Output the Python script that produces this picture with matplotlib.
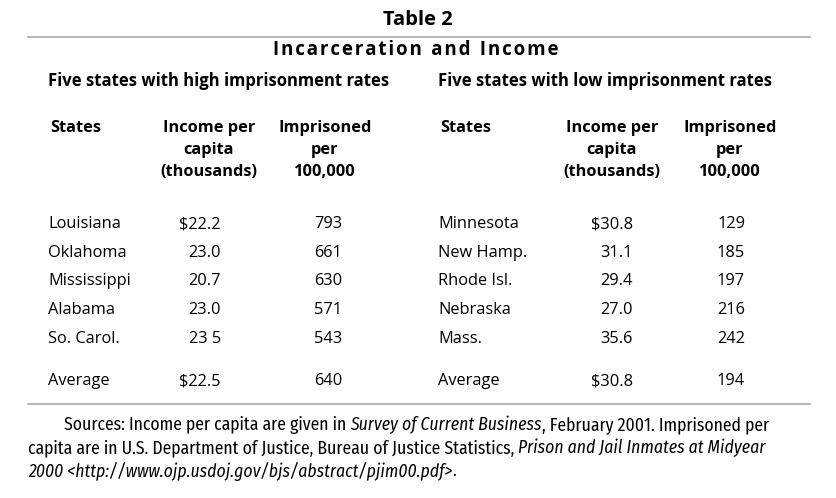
import matplotlib
matplotlib.use('Agg')
import matplotlib.pyplot as plt
from matplotlib import font_manager

FONT = 'Open Sans'
styles = {}
for f in font_manager.fontManager.ttflist:
    styles.setdefault(f.name, set()).add(f.style)
NOTE_FONT = 'Fira Sans Condensed' if 'italic' in styles.get('Fira Sans Condensed', set()) else FONT

# table data
high_states = ['Louisiana', 'Oklahoma', 'Mississippi', 'Alabama', 'So. Carol.']
high_income = ['$22.2', '23.0', '20.7', '23.0', '23 5']
high_prison = ['793', '661', '630', '571', '543']
high_avg = ['Average', '$22.5', '640']

low_states = ['Minnesota', 'New Hamp.', 'Rhode Isl.', 'Nebraska', 'Mass.']
low_income = ['$30.8', '31.1', '29.4', '27.0', '35.6']
low_prison = ['129', '185', '197', '216', '242']
low_avg = ['Average', '$30.8', '194']

headers = ['States', 'Income per\ncapita\n(thousands)', 'Imprisoned\nper\n100,000']

notes = [
    [('Sources: Income per capita are given in ', 'normal'), ('Survey of Current Business', 'italic'),
     (', February 2001. Imprisoned per', 'normal')],
    [('capita are in U.S. Department of Justice, Bureau of Justice Statistics, ', 'normal'),
     ('Prison and Jail Inmates at Midyear', 'italic')],
    [('2000 <http://www.ojp.usdoj.gov/bjs/abstract/pjim00.pdf>', 'italic'), ('.', 'normal')],
]

fig = plt.figure(figsize=(8.37, 4.98), dpi=100)
ax = fig.add_axes([0, 0, 1, 1])
ax.set_xlim(0, 837)
ax.set_ylim(498, 0)
ax.axis('off')

ax.text(418, 20, 'Table 2', ha='center', va='center', fontsize=14.5, fontweight='bold', family=FONT)
ax.plot([28, 810], [37, 37], color='#aaaaaa', lw=1.2)
# spaced-out title
ax.text(416, 50, '\u200a'.join('Incarceration and Income').replace('\u200a \u200a', '\u2002'),
        ha='center', va='center', fontsize=13.5, fontweight='bold', family=FONT)

blocks = [
    ('Five states with high imprisonment rates', 48, (48, 209, 325), (221, 342),
     high_states, high_income, high_prison, high_avg),
    ('Five states with low imprisonment rates', 438, (438, 612, 730), (633, 745),
     low_states, low_income, low_prison, low_avg),
]
row_y = [224, 253, 281, 310, 339]
avg_y = 381
head_y = [128, 150, 172]
fs = 11.8

for title, tx, hx, rx, states, income, prison, avg in blocks:
    ax.text(tx, 81, title, ha='left', va='center', fontsize=11.95, fontweight='bold', family=FONT)
    ax.text(hx[0] + 2, head_y[0], headers[0], ha='left', va='center', fontsize=fs, fontweight='bold',
            family=FONT)
    for h, x in zip(headers[1:], hx[1:]):
        for part, y in zip(h.split('\n'), head_y):
            ax.text(x, y, part, ha='center', va='center', fontsize=fs, fontweight='bold', family=FONT)
    for y, s, inc, pr in zip(row_y, states, income, prison):
        ax.text(tx, y, s, ha='left', va='center', fontsize=fs, family=FONT)
        ax.text(rx[0], y, inc, ha='right', va='center', fontsize=fs, family=FONT)
        ax.text(rx[1], y, pr, ha='right', va='center', fontsize=fs, family=FONT)
    ax.text(tx, avg_y, avg[0], ha='left', va='center', fontsize=fs, family=FONT)
    ax.text(rx[0], avg_y, avg[1], ha='right', va='center', fontsize=fs, family=FONT)
    ax.text(rx[1], avg_y, avg[2], ha='right', va='center', fontsize=fs, family=FONT)

ax.plot([28, 810], [404, 404], color='#aaaaaa', lw=1.2)

# source note, pieces placed one after another; size chosen so line 1 ends near x=772
renderer = fig.canvas.get_renderer()


def line_width(line, size):
    w = 0
    for txt, style in line:
        t = ax.text(0, 0, txt, fontsize=size, style=style, family=NOTE_FONT)
        w += t.get_window_extent(renderer).width
        t.remove()
    return w


note_fs = 12.5 * 708 / line_width(notes[0], 12.5)
for i, line in enumerate(notes):
    x = 64 if i == 0 else 28
    y = 425 + i * 23
    for txt, style in line:
        t = ax.text(x, y, txt, ha='left', va='center', fontsize=note_fs, style=style, family=NOTE_FONT)
        x += t.get_window_extent(renderer).width

fig.savefig('out.png', dpi=100)
